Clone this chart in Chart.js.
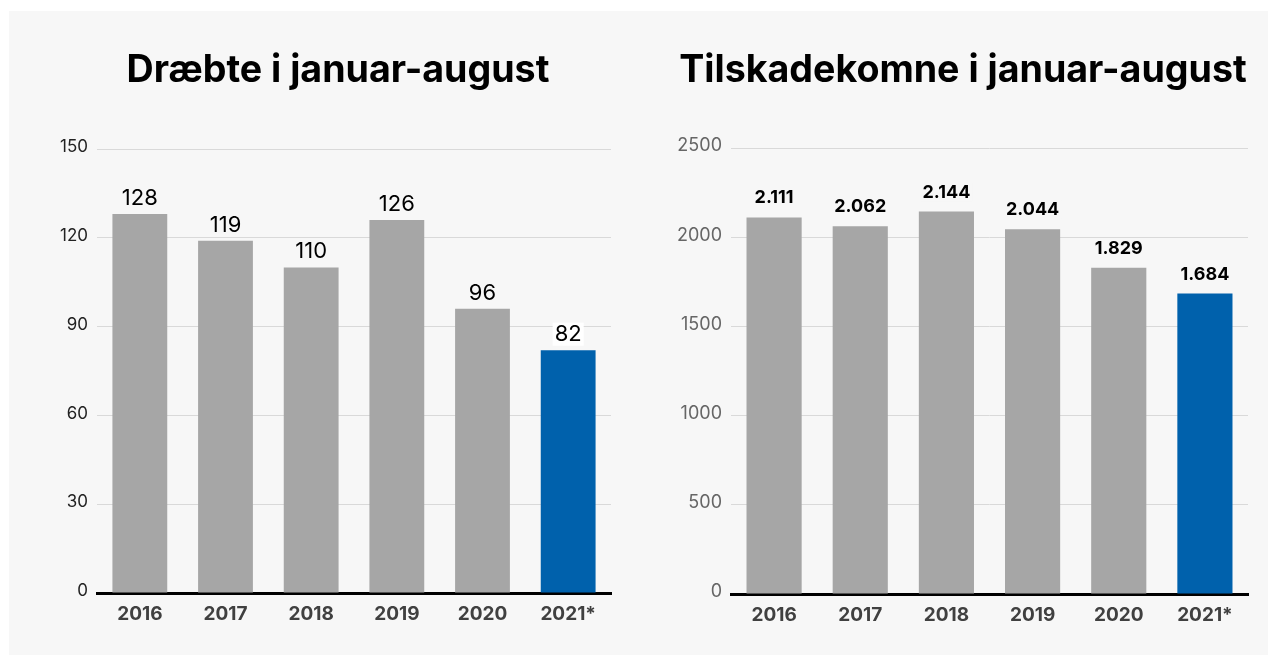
<!DOCTYPE html>
<html>
<head>
<meta charset="utf-8">
<script src="https://cdn.jsdelivr.net/npm/chart.js@4/dist/chart.umd.min.js"></script>
<style>
  html, body { margin: 0; padding: 0; background: #ffffff; }
  body { width: 1277px; height: 664px; position: relative; overflow: hidden; font-family: Inter, "Noto Sans", sans-serif; }
  #panel { position: absolute; left: 9px; top: 11px; width: 1259px; height: 644px; background: #f7f7f7; }
  .box { position: absolute; top: 0; height: 664px; }
  #boxL { left: 0; width: 640px; }
  #boxR { left: 640px; width: 637px; }
</style>
</head>
<body>
<div id="panel"></div>
<div class="box" id="boxL"><canvas id="c1"></canvas></div>
<div class="box" id="boxR"><canvas id="c2"></canvas></div>
<script>
const categories = ["2016", "2017", "2018", "2019", "2020", "2021*"];
const killed = [128, 119, 110, 126, 96, 82];
const injured = [2111, 2062, 2144, 2044, 1829, 1684];
const killedLabels = ["128", "119", "110", "126", "96", "82"];
const injuredLabels = ["2.111", "2.062", "2.144", "2.044", "1.829", "1.684"];
const killedTicks = [0, 30, 60, 90, 120, 150];
const injuredTicks = [0, 500, 1000, 1500, 2000, 2500];
const titleLeft = "Dræbte i januar-august";
const titleRight = "Tilskadekomne i januar-august";

const GREY = "#a6a6a6";
const BLUE = "#0061ac";
const barColors = categories.map((c, i) => i === categories.length - 1 ? BLUE : GREY);

const labelPlugin = {
  id: 'valueLabels',
  afterDatasetsDraw(chart, args, opts) {
    const ctx = chart.ctx;
    const meta = chart.getDatasetMeta(0);
    ctx.save();
    ctx.font = opts.font;
    ctx.textAlign = 'center';
    ctx.textBaseline = 'alphabetic';
    meta.data.forEach((bar, i) => {
      const txt = opts.labels[i];
      const y = bar.y - opts.gap;
      const w = ctx.measureText(txt).width;
      if (opts.bg && opts.bg[i]) {
        ctx.fillStyle = opts.bg[i];
        ctx.fillRect(bar.x - w / 2 - 2, y - opts.size * 0.85, w + 4, opts.size * 1.05);
      }
      ctx.fillStyle = opts.color;
      ctx.fillText(txt, bar.x, y);
    });
    ctx.restore();
  }
};

const titlePlugin = {
  id: 'bigTitle',
  afterDraw(chart, args, opts) {
    const ctx = chart.ctx;
    ctx.save();
    ctx.font = "bold 37.6px Inter";
    ctx.fillStyle = "#000000";
    ctx.textAlign = 'center';
    ctx.textBaseline = 'alphabetic';
    ctx.fillText(opts.text, opts.cx, opts.baseline);
    ctx.restore();
  }
};

function makeChart(id, values, labels, ticks, title, o) {
  return new Chart(document.getElementById(id), {
    type: 'bar',
    data: {
      labels: categories,
      datasets: [{ data: values, backgroundColor: barColors, borderWidth: 0,
        categoryPercentage: 1.0, barPercentage: 0.64 }]
    },
    options: {
      responsive: true,
      maintainAspectRatio: false,
      animation: false,
      layout: { padding: { left: 0, right: o.padRight, top: o.padTop, bottom: 0 } },
      plugins: {
        legend: { display: false },
        tooltip: { enabled: false },
        title: { display: false },
        valueLabels: o.labelOpts,
        bigTitle: { text: title, cx: o.titleX, baseline: 82 }
      },
      scales: {
        x: {
          grid: { display: false, drawTicks: false },
          border: { display: true, color: "#000000", width: 3 },
          ticks: { color: "#404040", font: { family: "Inter", size: 19, weight: "bold" }, padding: 10 },
          afterFit(s) { s.height = o.xHeight; }
        },
        y: {
          min: 0, max: ticks[ticks.length - 1],
          afterBuildTicks(s) { s.ticks = ticks.map(v => ({ value: v })); },
          grid: { color: "#d9d9d9", lineWidth: 1, drawTicks: false },
          border: { display: false },
          ticks: { color: o.tickColor, font: { family: "Inter", size: o.tickSize }, padding: 9,
            labelOffset: -2, callback: (v) => String(v) },
          afterFit(s) { s.width = o.yWidth; }
        }
      }
    },
    plugins: [labelPlugin, titlePlugin]
  });
}

makeChart('c1', killed, killedLabels, killedTicks, titleLeft, {
  padRight: 29, padTop: 149, xHeight: 71, yWidth: 97, tickColor: "#222222", tickSize: 17, titleX: 338,
  labelOpts: { labels: killedLabels, font: "22px Inter", size: 22, gap: 9, color: "#000000",
    bg: [null, null, null, null, null, "#ffffff"] }
});
makeChart('c2', injured, injuredLabels, injuredTicks, titleRight, {
  padRight: 29, padTop: 148, xHeight: 70, yWidth: 91, tickColor: "#666666", tickSize: 18, titleX: 323,
  labelOpts: { labels: injuredLabels, font: "bold 18px Inter", size: 18, gap: 14, color: "#000000",
    bg: ["#f7f7f7", "#f7f7f7", "#f7f7f7", "#f7f7f7", "#f7f7f7", "#f7f7f7"] }
});
</script>
</body>
</html>
